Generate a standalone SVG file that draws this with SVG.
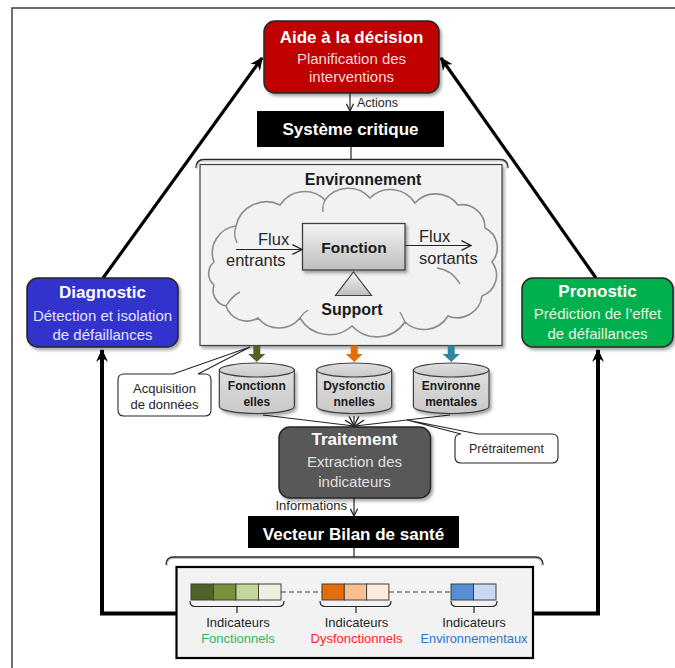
<svg xmlns="http://www.w3.org/2000/svg" width="675" height="668" viewBox="0 0 675 668">
<defs>
<style>
text{font-family:"Liberation Sans",Arial,sans-serif;}
.h{font-weight:bold;fill:#fff;font-size:17px;text-anchor:middle;}
.s{font-size:15px;text-anchor:middle;}
.b{font-weight:bold;fill:#1a1a1a;text-anchor:middle;}
.r{fill:#262626;}
.box{stroke:#262626;stroke-width:1.5;}
.cyl{fill:url(#gcyl);stroke:#404040;stroke-width:1.2;}
.thick{fill:none;stroke:#000;stroke-width:4;}
.diag{fill:none;stroke:#000;stroke-width:3.2;}
.thin{fill:none;stroke:#262626;stroke-width:1.2;}
.cell{stroke:#404040;stroke-width:1;}
.call{fill:#fff;stroke:#262626;stroke-width:1.1;}
</style>
<linearGradient id="gf" x1="0" y1="0" x2="0" y2="1"><stop offset="0" stop-color="#f4f4f4"/><stop offset="1" stop-color="#bdbdbd"/></linearGradient>
<linearGradient id="gcyl" x1="0" y1="0" x2="0" y2="1"><stop offset="0" stop-color="#e0e0e0"/><stop offset="1" stop-color="#c8c8c8"/></linearGradient>
<filter id="sh" x="-10%" y="-10%" width="130%" height="140%"><feDropShadow dx="2" dy="2.5" stdDeviation="1.8" flood-color="#000" flood-opacity="0.35"/></filter>
<marker id="big" viewBox="0 0 10 10" refX="9" refY="5" markerWidth="13" markerHeight="13" markerUnits="userSpaceOnUse" orient="auto"><path d="M0,0.5 L10,5 L0,9.5 L3,5 Z" fill="#000"/></marker>
<marker id="open" viewBox="0 0 10 10" refX="9" refY="5" markerWidth="9" markerHeight="9" markerUnits="userSpaceOnUse" orient="auto"><path d="M1,1 L9,5 L1,9" fill="none" stroke="#262626" stroke-width="1.4"/></marker>
<marker id="open2" viewBox="0 0 10 10" refX="9" refY="5" markerWidth="12" markerHeight="12" markerUnits="userSpaceOnUse" orient="auto"><path d="M1,1 L9,5 L1,9" fill="none" stroke="#262626" stroke-width="1.1"/></marker>
</defs>
<rect width="675" height="668" fill="#fff"/>
<path d="M12,668 L12,8 L675,8" fill="none" stroke="#404040" stroke-width="1.5"/>

<g id="connectors">
<path class="diag" d="M103,278 L262,58" marker-end="url(#big)"/>
<path class="diag" d="M596,278 L441,58" marker-end="url(#big)"/>
<path class="thick" d="M176,613.5 L102,613.5 L102,350" marker-end="url(#big)"/>
<path class="thick" d="M533,613.5 L598,613.5 L598,350" marker-end="url(#big)"/>
<path class="thin" d="M350,93 L350,111" marker-end="url(#open)"/>
<path class="thin" d="M351,147 L351,159"/>
<path d="M196,168 Q196,159.5 204,159.5 L500,159.5 Q508,159.5 508,168" fill="none" stroke="#262626" stroke-width="1.3"/>
<path d="M197,169 Q197,161 204,161 L500,161 Q507,161 507,169" fill="none" stroke="#bbb" stroke-width="1"/>
<path class="thin" d="M263,415 L354,426" marker-end="url(#open2)"/>
<path class="thin" d="M354,416 L354,426" marker-end="url(#open2)"/>
<path class="thin" d="M450,415 L355,426" marker-end="url(#open2)"/>
<path class="thin" d="M354,498 L354,516" marker-end="url(#open)"/>
<path class="thin" d="M354,548 L354,557"/>
<path d="M166,565 Q166,557 174,557 L535,557 Q543,557 543,565" fill="none" stroke="#262626" stroke-width="1.3"/>
<path d="M167,566 Q167,558.5 174,558.5 L535,558.5 Q542,558.5 542,566" fill="none" stroke="#bbb" stroke-width="1"/>
</g>

<g id="aide">
<rect class="box" x="264" y="21" width="175" height="72" rx="11" fill="#C00000" filter="url(#sh)"/>
<text class="h" x="351.5" y="42.5">Aide à la décision</text>
<text class="s" x="351.5" y="63.5" fill="#F2DCDB">Planification des</text>
<text class="s" x="351.5" y="82" fill="#F2DCDB">interventions</text>
</g>
<text x="357" y="106.5" font-size="12.5" class="r">Actions</text>

<g id="systeme">
<rect x="257" y="111" width="187" height="36" fill="#000"/>
<text class="h" x="350.5" y="135">Système critique</text>
</g>

<g id="environnement">
<rect x="200" y="164.5" width="302" height="181" fill="#F2F2F2" stroke="#404040" stroke-width="1.2" filter="url(#sh)"/>
<text class="b" x="363" y="185" font-size="16">Environnement</text>
<path d="M214,262 A27 27 0 0 1 236,226 A31 31 0 0 1 280,205 A29 29 0 0 1 325,200 A29 29 0 0 1 370,198 A29 29 0 0 1 415,203 A28 28 0 0 1 458,205 A23 23 0 0 1 485,228 A22 22 0 0 1 492,262 A22 22 0 0 1 482,296 A25 25 0 0 1 448,316 A28 28 0 0 1 405,322 A34 34 0 0 1 352,326 A34 34 0 0 1 300,318 A27 27 0 0 1 258,318 A22 22 0 0 1 226,306 A16 16 0 0 1 214,285 A15 15 0 0 1 214,262 Z" fill="#F2F2F2" stroke="#8c8c8c" stroke-width="1.6"/>
<path d="M236,226 Q233,235 237,243 M325,200 Q322,206 323,212 M437,268 Q452,270 460,284 M226,306 Q232,296 240,292 M300,318 Q303,313 308,310 M405,322 Q402,316 400,312" fill="none" stroke="#8c8c8c" stroke-width="1.4"/>
<rect x="302.5" y="223.5" width="102.5" height="46.5" fill="url(#gf)" stroke="#404040" stroke-width="1.3" filter="url(#sh)"/>
<text class="b" x="354" y="253" font-size="15.5">Fonction</text>
<path d="M353.5,272 L371.5,295.5 L335.5,295.5 Z" fill="url(#gf)" stroke="#404040" stroke-width="1.2"/>
<text class="b" x="352" y="315" font-size="16">Support</text>
<path class="thin" d="M236,249.5 L302,249.5" marker-end="url(#open2)"/>
<path class="thin" d="M405,245.5 L471,245.5" marker-end="url(#open2)"/>
<text x="258" y="245" font-size="16.5" class="r">Flux</text>
<text x="226" y="266" font-size="16.5" class="r">entrants</text>
<text x="419" y="241.5" font-size="16.5" class="r">Flux</text>
<text x="419" y="263.5" font-size="16.5" class="r">sortants</text>
</g>

<g id="diagnostic">
<rect class="box" x="27" y="278" width="151" height="69" rx="11" fill="#3333CC" filter="url(#sh)"/>
<text class="h" x="102.5" y="298">Diagnostic</text>
<text class="s" x="102.5" y="320.5" fill="#E4E4FA">Détection et isolation</text>
<text class="s" x="102.5" y="340" fill="#E4E4FA">de défaillances</text>
</g>

<g id="pronostic">
<rect class="box" x="522" y="278" width="151" height="69" rx="11" fill="#00B050" filter="url(#sh)"/>
<text class="h" x="597.5" y="297">Pronostic</text>
<text class="s" x="597.5" y="318.5" fill="#E8F5E0">Prédiction de l’effet</text>
<text class="s" x="597.5" y="338.5" fill="#E8F5E0">de défaillances</text>
</g>

<g id="fleches-couleur">
<path d="M253.3,345.5 L260.3,345.5 L260.3,354 L265.3,354 L256.8,362 L248.3,354 L253.3,354 Z" fill="#4F6228"/>
<path d="M350.7,345.5 L357.7,345.5 L357.7,354 L362.7,354 L354.2,362 L345.7,354 L350.7,354 Z" fill="#E46C0A"/>
<path d="M447.7,345.5 L454.7,345.5 L454.7,354 L459.7,354 L451.2,362 L442.7,354 L447.7,354 Z" fill="#31859C"/>
</g>

<g id="cyl-fonctionnelles">
<path class="cyl" d="M219.3,370 L219.3,406.5 A37.5 7 0 0 0 294.3,406.5 L294.3,370 Z" filter="url(#sh)"/>
<ellipse class="cyl" cx="256.8" cy="370" rx="37.5" ry="7"/>
<text class="b" x="256.8" y="390" font-size="12">Fonctionn</text>
<text class="b" x="256.8" y="405.5" font-size="12">elles</text>
</g>
<g id="cyl-dysfonctionnelles">
<path class="cyl" d="M316.7,370 L316.7,406.5 A37.5 7 0 0 0 391.7,406.5 L391.7,370 Z" filter="url(#sh)"/>
<ellipse class="cyl" cx="354.2" cy="370" rx="37.5" ry="7"/>
<text class="b" x="354.2" y="390" font-size="12">Dysfonctio</text>
<text class="b" x="354.2" y="405.5" font-size="12">nnelles</text>
</g>
<g id="cyl-environnementales">
<path class="cyl" d="M413.4,370 L413.4,406.5 A37.8 7 0 0 0 489,406.5 L489,370 Z" filter="url(#sh)"/>
<ellipse class="cyl" cx="451.2" cy="370" rx="37.8" ry="7"/>
<text class="b" x="451.2" y="390" font-size="12">Environne</text>
<text class="b" x="451.2" y="405.5" font-size="12">mentales</text>
</g>

<g id="acquisition">
<path class="call" d="M124,374 L173,374 L250,347 L198,374 L205,374 Q211,374 211,380 L211,410 Q211,416 205,416 L124,416 Q118,416 118,410 L118,380 Q118,374 124,374 Z"/>
<text x="164.5" y="393" font-size="13" class="r" text-anchor="middle">Acquisition</text>
<text x="164.5" y="408.5" font-size="13" class="r" text-anchor="middle">de données</text>
</g>

<g id="pretraitement">
<path class="call" d="M461,434 L407,420 L478,434 L552,434 Q558,434 558,440 L558,457 Q558,463 552,463 L461,463 Q455,463 455,457 L455,440 Q455,434 461,434 Z"/>
<text x="506.5" y="453" font-size="12.5" class="r" text-anchor="middle">Prétraitement</text>
</g>

<g id="traitement">
<rect class="box" x="279" y="427" width="151.5" height="71" rx="11" fill="#595959" filter="url(#sh)"/>
<text class="h" x="354.5" y="445" font-size="17.5">Traitement</text>
<text class="s" x="354.5" y="467" fill="#E0E0E0">Extraction des</text>
<text class="s" x="354.5" y="487" fill="#E0E0E0">indicateurs</text>
</g>
<text x="347" y="510" font-size="13" class="r" text-anchor="end">Informations</text>

<g id="vecteur">
<rect x="248" y="516" width="211" height="32" fill="#000"/>
<text class="h" x="353.5" y="540">Vecteur Bilan de santé</text>
</g>

<g id="indicateurs">
<rect x="176.5" y="567" width="356.5" height="91" fill="#F2F2F2" stroke="#000" stroke-width="2.2"/>
<rect class="cell" x="191" y="584" width="22.5" height="16" fill="#4F6228"/>
<rect class="cell" x="213.5" y="584" width="22.5" height="16" fill="#77933C"/>
<rect class="cell" x="236" y="584" width="22.5" height="16" fill="#C3D69B"/>
<rect class="cell" x="258.5" y="584" width="22.5" height="16" fill="#EBF1DE"/>
<rect class="cell" x="322" y="584" width="22.3" height="16" fill="#E46C0A"/>
<rect class="cell" x="344.3" y="584" width="22.3" height="16" fill="#FAC090"/>
<rect class="cell" x="366.6" y="584" width="22.3" height="16" fill="#FDEADA"/>
<rect class="cell" x="451" y="584" width="22.5" height="16" fill="#558ED5"/>
<rect class="cell" x="473.5" y="584" width="22.5" height="16" fill="#C6D9F1"/>
<path d="M281,592 L322,592 M389,592 L451,592" stroke="#404040" stroke-width="1.2" stroke-dasharray="5,3"/>
<path class="thin" d="M190,601 Q190,606.5 195,606.5 L279,606.5 Q284,606.5 284,601 M237,606.5 L237,613"/>
<path class="thin" d="M320,601 Q320,606.5 325,606.5 L386,606.5 Q391,606.5 391,601 M356,606.5 L356,613"/>
<path class="thin" d="M451,601 Q451,606.5 456,606.5 L492,606.5 Q497,606.5 497,601 M474,606.5 L474,613"/>
<text x="238" y="627" font-size="13" class="r" text-anchor="middle">Indicateurs</text>
<text x="356.5" y="627" font-size="13" class="r" text-anchor="middle">Indicateurs</text>
<text x="474" y="627" font-size="13" class="r" text-anchor="middle">Indicateurs</text>
<text x="238" y="643" font-size="13" fill="#2DB85A" text-anchor="middle">Fonctionnels</text>
<text x="356.5" y="643" font-size="13" fill="#FF1F1F" text-anchor="middle">Dysfonctionnels</text>
<text x="474" y="643" font-size="13" fill="#2E75C8" text-anchor="middle" textLength="107" lengthAdjust="spacingAndGlyphs">Environnementaux</text>
</g>
</svg>
